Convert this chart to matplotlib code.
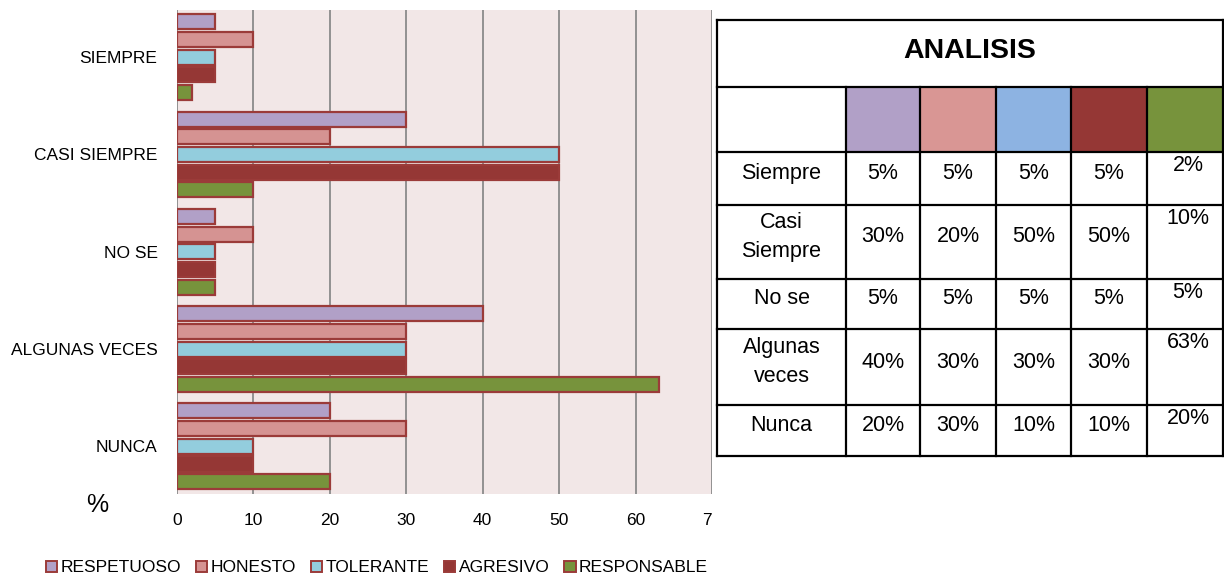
import numpy as np
import matplotlib
matplotlib.use("Agg")
import matplotlib.pyplot as plt
from matplotlib.patches import Rectangle, Patch
from matplotlib import font_manager

# chart data
categories = ["SIEMPRE", "CASI SIEMPRE", "NO SE", "ALGUNAS VECES", "NUNCA"]
series = ["RESPETUOSO", "HONESTO", "TOLERANTE", "AGRESIVO", "RESPONSABLE"]
respetuoso = [5, 30, 5, 40, 20]
honesto = [10, 20, 10, 30, 30]
tolerante = [5, 50, 5, 30, 10]
agresivo = [5, 50, 5, 30, 10]
responsable = [2, 10, 5, 63, 20]
xticks = [0, 10, 20, 30, 40, 50, 60, 70]

# table data
table_title = "ANALISIS"
table_rows = ["Siempre", "Casi\nSiempre", "No se", "Algunas\nveces", "Nunca"]
table_vals = [
    ["5%", "5%", "5%", "5%", "2%"],
    ["30%", "20%", "50%", "50%", "10%"],
    ["5%", "5%", "5%", "5%", "5%"],
    ["40%", "30%", "30%", "30%", "63%"],
    ["20%", "30%", "10%", "10%", "20%"],
]

bar_colors = ["#B1A0C7", "#D59392", "#93CDDD", "#953735", "#77933C"]
table_colors = ["#B1A0C7", "#D99694", "#8DB3E2", "#953735", "#77933C"]
edge = "#9B3B39"

names = [f.name for f in font_manager.fontManager.ttflist]
narrow = "Liberation Sans Narrow" if "Liberation Sans Narrow" in names else "Liberation Sans"
narrow_size = 14 if narrow == "Liberation Sans Narrow" else 12.5

W, H = 1224, 580
fig = plt.figure(figsize=(W / 100, H / 100), dpi=100)
fig.patch.set_facecolor("white")

ax = fig.add_axes([177 / W, 1 - 494 / H, (712 - 177) / W, (494 - 10) / H])
ax.set_facecolor("#F2E7E7")

values = [respetuoso, honesto, tolerante, agresivo, responsable]
y = np.arange(len(categories))
pitch = 0.182
h = 0.155
for i, (vals, col) in enumerate(zip(values, bar_colors)):
    ax.barh(y + (i - 2) * pitch, vals, height=h, color=col, edgecolor=edge,
            linewidth=1.6, zorder=3, label=series[i])

ax.set_xlim(0, 70)
ax.set_ylim(4.49, -0.485)
ax.set_xticks(xticks)
ax.set_xticklabels([str(t) for t in xticks], fontsize=narrow_size, family=narrow)
ax.set_yticks(y)
ax.set_yticklabels(categories, fontsize=narrow_size, family=narrow)
ax.tick_params(length=0, pad=14, axis="y")
ax.tick_params(length=0, pad=14, axis="x")
ax.xaxis.grid(True, color="#8A8A8A", linewidth=1.3, zorder=0)
ax.set_axisbelow(True)
for s in ax.spines.values():
    s.set_visible(False)

fig.text(97 / W, 1 - 505 / H, "%", fontsize=18, family=narrow, ha="center", va="center")

handles = [Patch(facecolor=c, edgecolor=edge, linewidth=1.4) for c in bar_colors]
fig.legend(handles, series, loc="center", bbox_to_anchor=(377 / W, 1 - 568 / H), ncol=5,
           frameon=False, prop={"family": narrow, "size": narrow_size}, handlelength=0.65,
           handleheight=0.65, handletextpad=0.2, columnspacing=0.85)

# table overlay in pixel coordinates
tx = fig.add_axes([0, 0, 1, 1])
tx.set_xlim(0, W)
tx.set_ylim(H, 0)
tx.axis("off")
tx.patch.set_alpha(0)
tx.add_patch(Rectangle((711.5, 0), W - 711.5, H, facecolor="white", edgecolor="none"))

cols = [717, 846, 920, 996, 1071, 1147, 1223]
rows = [20, 87, 152, 205, 279, 329, 405, 456]

for j, c in enumerate(table_colors):
    tx.add_patch(Rectangle((cols[j + 1], rows[1]), cols[j + 2] - cols[j + 1], rows[2] - rows[1],
                           facecolor=c, edgecolor="none"))

lw = 1.6
for r in rows:
    tx.plot([cols[0], cols[-1]], [r, r], color="black", lw=lw, solid_capstyle="projecting")
tx.plot([cols[0], cols[0]], [rows[0], rows[-1]], color="black", lw=lw)
tx.plot([cols[-1], cols[-1]], [rows[0], rows[-1]], color="black", lw=lw)
for c in cols[1:-1]:
    tx.plot([c, c], [rows[1], rows[-1]], color="black", lw=lw)

tx.text((cols[0] + cols[-1]) / 2, (rows[0] + rows[1]) / 2 - 2, table_title, fontsize=20.5,
        fontweight="bold", family="Liberation Sans", ha="center", va="center")

fs = 15.5
for i, lab in enumerate(table_rows):
    top, bot = rows[i + 2], rows[i + 3]
    mid = (top + bot) / 2 - 5
    tx.text((cols[0] + cols[1]) / 2, mid, lab, fontsize=fs, family="Liberation Sans",
            ha="center", va="center", linespacing=1.45)
    for j, v in enumerate(table_vals[i]):
        cx = (cols[j + 1] + cols[j + 2]) / 2
        if j == 4:
            tx.text(cx + 3, top + 3, v, fontsize=fs, family="Liberation Sans", ha="center", va="top")
        else:
            tx.text(cx, mid, v, fontsize=fs, family="Liberation Sans", ha="center", va="center")

fig.savefig("out.png", dpi=100)
